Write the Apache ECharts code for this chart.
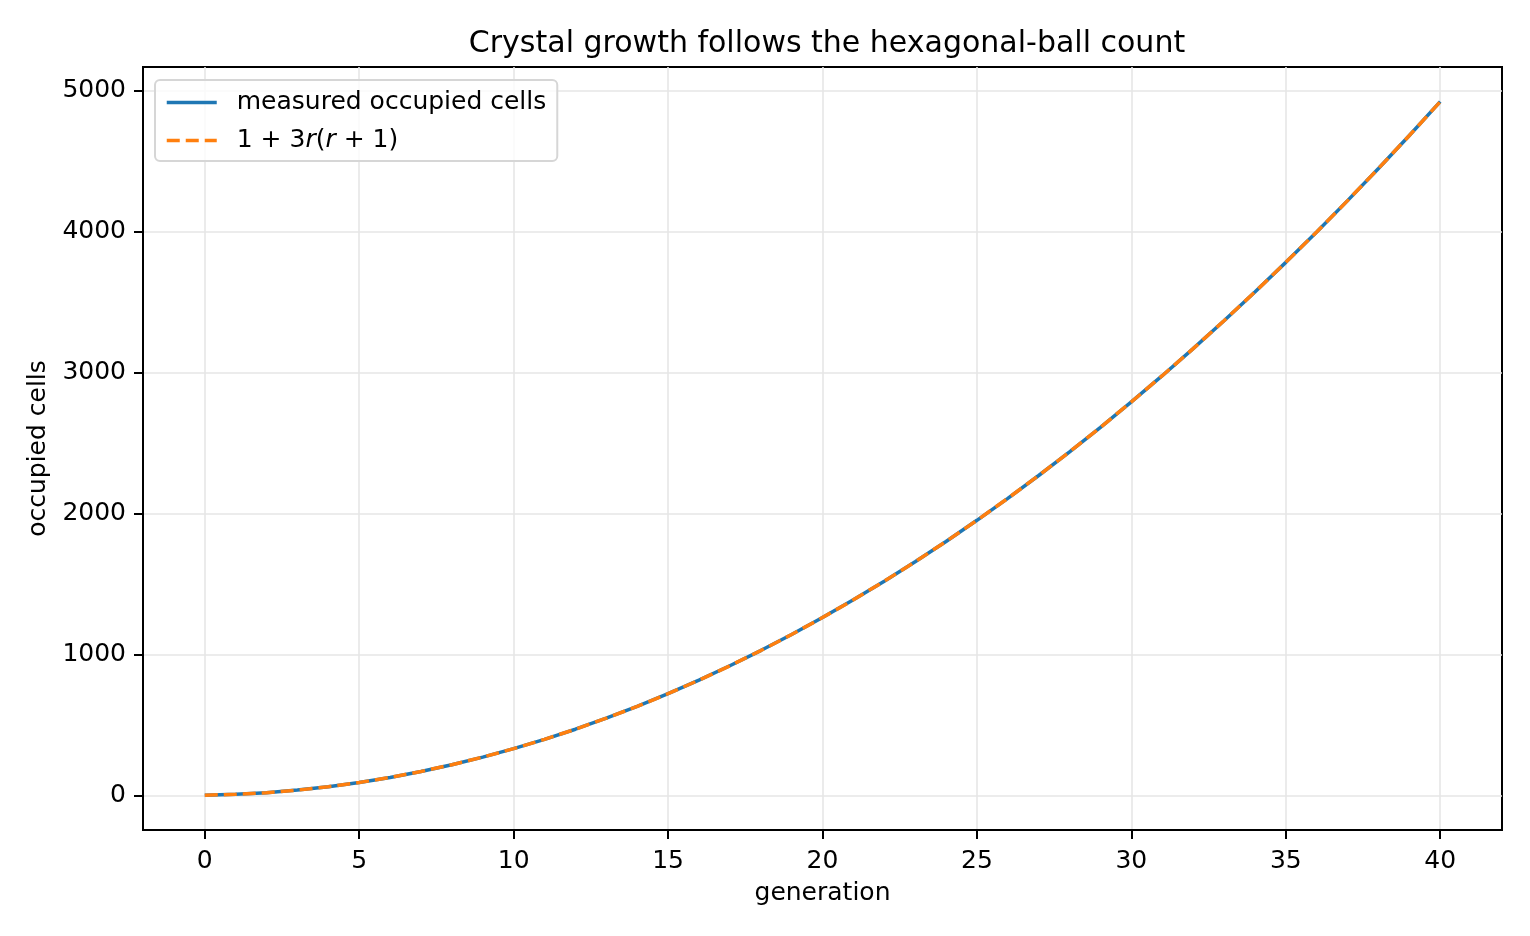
<!DOCTYPE html>
<html>
<head>
<meta charset="utf-8">
<script src="https://cdn.jsdelivr.net/npm/echarts@6/dist/echarts.min.js"></script>
<style>
html, body { margin: 0; padding: 0; background: #fff; }
#main { width: 1530px; height: 936px; }
</style>
</head>
<body>
<div id="main"></div>
<script>
// generations and measured cell counts
var generations = [0,1,2,3,4,5,6,7,8,9,10,11,12,13,14,15,16,17,18,19,20,
    21,22,23,24,25,26,27,28,29,30,31,32,33,34,35,36,37,38,39,40];
var measured = [1,7,19,37,61,91,127,169,217,271,331,397,469,547,631,721,817,919,1027,1141,1261,
    1387,1519,1657,1801,1951,2107,2269,2437,2611,2791,2977,3169,3367,3571,3781,3997,4219,4447,4681,4921];
var hexBall = [1,7,19,37,61,91,127,169,217,271,331,397,469,547,631,721,817,919,1027,1141,1261,
    1387,1519,1657,1801,1951,2107,2269,2437,2611,2791,2977,3169,3367,3571,3781,3997,4219,4447,4681,4921];
var xTicks = [0,5,10,15,20,25,30,35,40];
var yTicks = [0,1000,2000,3000,4000,5000];

var FONT = 'DejaVu Sans';
var chart = echarts.init(document.getElementById('main'));

function pairs(xs, ys) {
    var out = [];
    for (var i = 0; i < xs.length; i++) out.push([xs[i], ys[i]]);
    return out;
}

function axisCommon(ticks, margin) {
    return {
        axisLine: { show: true, onZero: false, lineStyle: { color: '#000', width: 2 } },
        axisTick: { show: true, length: 9, customValues: ticks, lineStyle: { color: '#000', width: 2 } },
        axisLabel: {
            customValues: ticks, fontFamily: FONT, fontSize: 25, color: '#000', margin: margin,
            formatter: function (v) { return String(v); }
        },
        splitLine: { show: true, lineStyle: { color: '#e6e6e6', width: 1.6 } },
        nameLocation: 'middle',
        nameTextStyle: { fontFamily: FONT, fontSize: 25, color: '#000' }
    };
}

var xAxisOpt = axisCommon(xTicks, 19);
xAxisOpt.type = 'value';
xAxisOpt.min = -2;
xAxisOpt.max = 42;
xAxisOpt.name = 'generation';
xAxisOpt.nameGap = 51;

var yAxisOpt = axisCommon(yTicks, 17);
yAxisOpt.type = 'value';
yAxisOpt.min = -246;
yAxisOpt.max = 5167;
yAxisOpt.name = 'occupied cells';
yAxisOpt.nameGap = 92;

var option = {
    backgroundColor: '#fff',
    animation: false,
    title: {
        text: 'Crystal growth follows the hexagonal-ball count',
        left: 822, top: 24, textAlign: 'center',
        textStyle: { fontFamily: FONT, fontSize: 30, fontWeight: 'normal', color: '#000' }
    },
    legend: {
        left: 155, top: 80,
        orient: 'vertical',
        padding: [10, 11, 8, 10],
        itemGap: 13,
        itemWidth: 50, itemHeight: 25,
        borderColor: '#d6d6d6', borderWidth: 2, borderRadius: 5,
        backgroundColor: 'rgba(255,255,255,0.8)',
        itemStyle: { opacity: 0 },
        lineStyle: { width: 3.5 },
        textStyle: {
            fontFamily: FONT, fontSize: 25, color: '#000', padding: [0, 0, 0, 15],
            rich: { i: { fontFamily: FONT, fontSize: 25, fontStyle: 'italic', color: '#000' } }
        },
        formatter: function (name) {
            if (name === 'formula') return '1 + 3{i|r}({i|r} + 1)';
            return name;
        },
        data: [
            { name: 'measured occupied cells', lineStyle: { width: 3.5, color: '#1f77b4', type: 'solid' } },
            { name: 'formula', lineStyle: { width: 3.5, color: '#ff7f0e', type: [13, 6] } }
        ]
    },
    grid: { left: 143, right: 28, top: 67, bottom: 106, show: true, borderColor: '#000', borderWidth: 2 },
    xAxis: xAxisOpt,
    yAxis: yAxisOpt,
    series: [
        {
            name: 'measured occupied cells', type: 'line',
            data: pairs(generations, measured),
            showSymbol: false, symbol: 'circle', symbolSize: 0,
            lineStyle: { color: '#1f77b4', width: 3.5 },
            itemStyle: { color: '#1f77b4' }
        },
        {
            name: 'formula', type: 'line',
            data: pairs(generations, hexBall),
            showSymbol: false, symbol: 'circle', symbolSize: 0,
            lineStyle: { color: '#ff7f0e', width: 3.5, type: [13, 6] },
            itemStyle: { color: '#ff7f0e' }
        }
    ]
};

chart.setOption(option);
</script>
</body>
</html>
